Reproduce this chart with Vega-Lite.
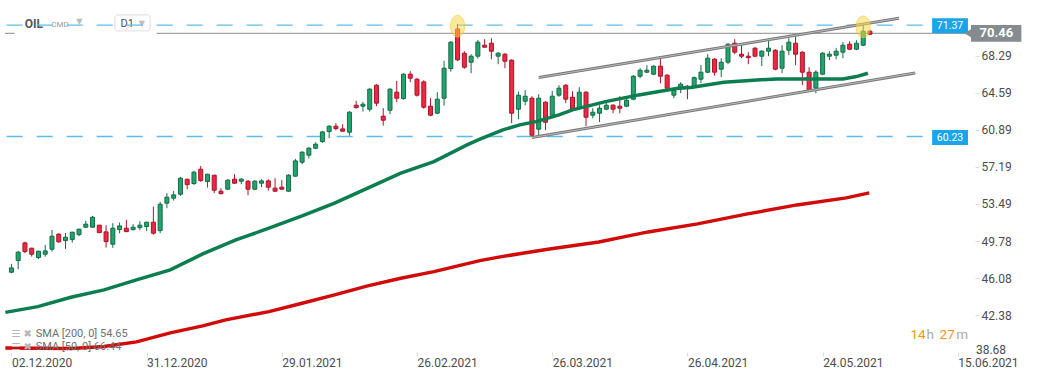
{
  "$schema": "https://vega.github.io/schema/vega-lite/v6.json",
  "width": 975,
  "height": 352,
  "autosize": {"type": "none"},
  "padding": {"left": 0, "top": 0, "right": 66, "bottom": 28},
  "background": "#ffffff",
  "config": {
    "view": {"stroke": null},
    "font": "Roboto",
    "axis": {"domain": false, "grid": false, "tickSize": 4, "tickColor": "#dddddd", "labelFontSize": 12, "labelColor": "#4d4d4d", "labelFont": "Roboto", "labelOverlap": false, "labelBound": false, "titleFontSize": 0},
    "axisX": {"labelPadding": 1, "labelAlign": "left", "labelFlush": false},
    "axisY": {"labelPadding": 2, "labelAlign": "left", "labelFlush": false}
  },
  "data": {"values": [{}]},
  "datasets": {
    "candles": [
      {"i":0,"o":46.66,"h":47.49,"l":46.55,"c":47.09},
      {"i":1,"o":47.82,"h":48.79,"l":46.96,"c":48.66},
      {"i":2,"o":49.59,"h":49.72,"l":48.56,"c":48.72},
      {"i":3,"o":49.06,"h":49.10,"l":48.22,"c":48.46},
      {"i":4,"o":48.12,"h":48.80,"l":47.96,"c":48.76},
      {"i":5,"o":48.46,"h":49.39,"l":48.22,"c":48.79},
      {"i":6,"o":48.96,"h":50.89,"l":48.72,"c":50.26},
      {"i":7,"o":50.46,"h":50.56,"l":49.62,"c":49.69},
      {"i":8,"o":49.82,"h":50.59,"l":48.99,"c":50.16},
      {"i":9,"o":49.92,"h":50.70,"l":49.62,"c":50.66},
      {"i":10,"o":50.42,"h":51.00,"l":50.26,"c":50.96},
      {"i":11,"o":51.16,"h":51.79,"l":51.10,"c":51.46},
      {"i":12,"o":51.16,"h":52.29,"l":51.10,"c":52.16},
      {"i":13,"o":51.36,"h":51.40,"l":50.56,"c":50.62},
      {"i":14,"o":50.69,"h":51.36,"l":49.12,"c":49.72},
      {"i":15,"o":49.46,"h":51.56,"l":49.09,"c":51.06},
      {"i":16,"o":50.92,"h":51.62,"l":50.56,"c":51.29},
      {"i":17,"o":51.06,"h":51.89,"l":50.66,"c":50.72},
      {"i":18,"o":50.92,"h":51.46,"l":50.82,"c":51.16},
      {"i":19,"o":51.12,"h":51.76,"l":50.86,"c":51.36},
      {"i":20,"o":51.22,"h":51.70,"l":50.79,"c":51.66},
      {"i":21,"o":51.66,"h":53.22,"l":50.42,"c":50.56},
      {"i":22,"o":50.82,"h":53.69,"l":50.56,"c":53.46},
      {"i":23,"o":53.56,"h":54.56,"l":53.06,"c":54.16},
      {"i":24,"o":54.06,"h":54.79,"l":53.82,"c":54.39},
      {"i":25,"o":54.46,"h":56.19,"l":54.29,"c":56.06},
      {"i":26,"o":55.96,"h":56.00,"l":54.96,"c":55.42},
      {"i":27,"o":55.52,"h":56.80,"l":55.40,"c":56.66},
      {"i":28,"o":56.96,"h":57.29,"l":55.70,"c":55.82},
      {"i":29,"o":55.72,"h":56.50,"l":55.12,"c":56.46},
      {"i":30,"o":56.36,"h":56.40,"l":54.56,"c":54.86},
      {"i":31,"o":54.76,"h":55.06,"l":54.42,"c":54.52},
      {"i":32,"o":54.96,"h":55.96,"l":54.90,"c":55.86},
      {"i":33,"o":55.96,"h":56.46,"l":55.50,"c":55.56},
      {"i":34,"o":55.76,"h":56.06,"l":55.46,"c":55.96},
      {"i":35,"o":55.76,"h":55.86,"l":54.36,"c":54.96},
      {"i":36,"o":54.96,"h":55.86,"l":54.86,"c":55.76},
      {"i":37,"o":55.56,"h":55.96,"l":55.16,"c":55.79},
      {"i":38,"o":55.79,"h":55.96,"l":54.82,"c":55.16},
      {"i":39,"o":55.06,"h":56.06,"l":54.70,"c":54.76},
      {"i":40,"o":55.16,"h":55.89,"l":54.89,"c":54.96},
      {"i":41,"o":54.76,"h":56.46,"l":54.70,"c":56.36},
      {"i":42,"o":56.26,"h":57.99,"l":56.20,"c":57.79},
      {"i":43,"o":57.66,"h":58.76,"l":57.46,"c":58.66},
      {"i":44,"o":58.36,"h":59.16,"l":58.02,"c":59.06},
      {"i":45,"o":59.06,"h":59.66,"l":58.96,"c":59.46},
      {"i":46,"o":59.72,"h":60.79,"l":59.60,"c":60.69},
      {"i":47,"o":60.72,"h":61.36,"l":60.06,"c":61.26},
      {"i":48,"o":61.26,"h":61.56,"l":60.86,"c":61.02},
      {"i":49,"o":60.99,"h":61.46,"l":60.70,"c":60.76},
      {"i":50,"o":60.66,"h":62.76,"l":60.32,"c":62.66},
      {"i":51,"o":63.36,"h":63.79,"l":63.02,"c":63.12},
      {"i":52,"o":63.26,"h":63.69,"l":62.72,"c":63.46},
      {"i":53,"o":62.96,"h":65.06,"l":62.72,"c":64.96},
      {"i":54,"o":65.36,"h":65.46,"l":63.26,"c":63.56},
      {"i":55,"o":62.26,"h":63.06,"l":61.32,"c":61.86},
      {"i":56,"o":62.86,"h":65.06,"l":62.46,"c":64.96},
      {"i":57,"o":64.66,"h":65.79,"l":63.66,"c":64.06},
      {"i":58,"o":64.02,"h":66.56,"l":63.92,"c":66.46},
      {"i":59,"o":66.46,"h":66.76,"l":65.66,"c":66.06},
      {"i":60,"o":65.96,"h":66.06,"l":64.22,"c":64.36},
      {"i":61,"o":65.69,"h":65.86,"l":63.00,"c":63.16},
      {"i":62,"o":63.26,"h":64.06,"l":62.26,"c":62.36},
      {"i":63,"o":62.56,"h":64.66,"l":62.46,"c":63.96},
      {"i":64,"o":64.06,"h":67.79,"l":63.32,"c":67.06},
      {"i":65,"o":67.02,"h":69.76,"l":66.72,"c":69.66},
      {"i":66,"o":70.99,"h":71.49,"l":67.79,"c":67.89},
      {"i":67,"o":68.56,"h":68.76,"l":67.00,"c":67.16},
      {"i":68,"o":67.66,"h":68.46,"l":66.56,"c":68.26},
      {"i":69,"o":68.26,"h":69.89,"l":68.02,"c":69.66},
      {"i":70,"o":69.36,"h":69.96,"l":69.10,"c":69.16},
      {"i":71,"o":69.56,"h":70.06,"l":67.96,"c":68.76},
      {"i":72,"o":68.26,"h":68.66,"l":67.46,"c":68.56},
      {"i":73,"o":68.46,"h":68.56,"l":67.06,"c":67.76},
      {"i":74,"o":67.86,"h":67.96,"l":61.56,"c":62.56},
      {"i":75,"o":62.96,"h":64.72,"l":61.96,"c":64.36},
      {"i":76,"o":63.76,"h":64.86,"l":63.36,"c":64.26},
      {"i":77,"o":64.06,"h":64.26,"l":60.22,"c":60.36},
      {"i":78,"o":60.96,"h":64.46,"l":60.36,"c":64.06},
      {"i":79,"o":63.66,"h":63.76,"l":60.86,"c":61.66},
      {"i":80,"o":62.36,"h":64.79,"l":62.20,"c":64.26},
      {"i":81,"o":64.36,"h":65.36,"l":64.20,"c":65.06},
      {"i":82,"o":65.36,"h":65.46,"l":63.56,"c":63.96},
      {"i":83,"o":64.16,"h":64.76,"l":62.86,"c":62.96},
      {"i":84,"o":63.06,"h":65.16,"l":62.96,"c":64.66},
      {"i":85,"o":64.66,"h":64.76,"l":61.26,"c":62.16},
      {"i":86,"o":62.36,"h":63.06,"l":62.06,"c":62.66},
      {"i":87,"o":62.56,"h":63.36,"l":61.66,"c":63.06},
      {"i":88,"o":62.96,"h":63.66,"l":62.86,"c":63.36},
      {"i":89,"o":63.36,"h":63.46,"l":62.56,"c":62.96},
      {"i":90,"o":63.26,"h":64.26,"l":62.56,"c":63.06},
      {"i":91,"o":63.26,"h":64.16,"l":63.16,"c":63.86},
      {"i":92,"o":63.96,"h":66.36,"l":63.86,"c":66.26},
      {"i":93,"o":66.26,"h":67.06,"l":66.06,"c":66.86},
      {"i":94,"o":66.66,"h":67.36,"l":66.56,"c":66.86},
      {"i":95,"o":66.46,"h":67.36,"l":66.36,"c":67.26},
      {"i":96,"o":67.26,"h":68.06,"l":65.56,"c":66.26},
      {"i":97,"o":66.36,"h":66.46,"l":64.72,"c":65.06},
      {"i":98,"o":64.36,"h":65.06,"l":64.06,"c":64.86},
      {"i":99,"o":65.06,"h":65.66,"l":64.56,"c":65.46},
      {"i":100,"o":65.26,"h":65.36,"l":63.96,"c":65.12},
      {"i":101,"o":65.16,"h":66.22,"l":65.06,"c":66.12},
      {"i":102,"o":65.96,"h":67.36,"l":65.56,"c":66.66},
      {"i":103,"o":66.66,"h":68.46,"l":66.56,"c":68.06},
      {"i":104,"o":67.96,"h":68.06,"l":66.32,"c":66.66},
      {"i":105,"o":66.96,"h":68.06,"l":66.16,"c":67.66},
      {"i":106,"o":67.66,"h":69.56,"l":67.46,"c":69.46},
      {"i":107,"o":69.56,"h":69.96,"l":68.46,"c":68.66},
      {"i":108,"o":68.46,"h":69.36,"l":68.06,"c":68.26},
      {"i":109,"o":68.26,"h":68.66,"l":67.46,"c":68.12},
      {"i":110,"o":69.06,"h":69.16,"l":68.16,"c":68.26},
      {"i":111,"o":68.26,"h":68.86,"l":67.26,"c":68.76},
      {"i":112,"o":68.76,"h":69.86,"l":68.26,"c":69.06},
      {"i":113,"o":68.86,"h":68.96,"l":66.86,"c":66.96},
      {"i":114,"o":67.06,"h":69.36,"l":66.56,"c":68.76},
      {"i":115,"o":68.86,"h":70.06,"l":68.36,"c":69.66},
      {"i":116,"o":69.56,"h":70.26,"l":67.36,"c":68.46},
      {"i":117,"o":68.66,"h":68.76,"l":65.36,"c":66.66},
      {"i":118,"o":66.66,"h":67.16,"l":64.76,"c":64.86},
      {"i":119,"o":65.06,"h":66.86,"l":64.56,"c":66.66},
      {"i":120,"o":66.46,"h":68.66,"l":66.36,"c":68.56},
      {"i":121,"o":68.26,"h":68.76,"l":67.86,"c":68.46},
      {"i":122,"o":68.36,"h":69.06,"l":67.96,"c":68.76},
      {"i":123,"o":68.66,"h":69.66,"l":68.06,"c":69.36},
      {"i":124,"o":69.46,"h":69.76,"l":68.86,"c":68.96},
      {"i":125,"o":68.96,"h":69.86,"l":68.86,"c":69.56},
      {"i":126,"o":69.36,"h":71.46,"l":69.26,"c":70.76},
      {"i":127,"o":70.76,"h":70.86,"l":70.36,"c":70.46}
    ],
    "sma50": [
      {"i":-0.9,"v":42.64},{"i":3.9,"v":43.22},{"i":8.8,"v":44.16},{"i":13.7,"v":44.89},
      {"i":18.5,"v":45.89},{"i":23.5,"v":46.89},{"i":28.3,"v":48.49},{"i":33.2,"v":49.89},
      {"i":38.1,"v":51.06},{"i":43,"v":52.29},{"i":47.8,"v":53.56},{"i":52.7,"v":55.06},
      {"i":57.6,"v":56.56},{"i":62.5,"v":57.72},{"i":67.4,"v":59.39},{"i":69.3,"v":59.96},
      {"i":72.7,"v":60.89},{"i":75.2,"v":61.39},{"i":77.6,"v":61.72},{"i":81,"v":62.39},
      {"i":83,"v":62.89},{"i":87.9,"v":63.72},{"i":92.8,"v":64.39},{"i":98.6,"v":65.06},
      {"i":100.5,"v":65.12},{"i":105.4,"v":65.66},{"i":110.3,"v":65.89},{"i":113.2,"v":65.99},
      {"i":123,"v":65.99},{"i":125,"v":66.22},{"i":126.7,"v":66.56}
    ],
    "sma200": [
      {"i":-0.9,"v":39.09},{"i":8.9,"v":39.04},{"i":13.7,"v":39.24},{"i":18.5,"v":39.69},
      {"i":23.5,"v":40.59},{"i":28.3,"v":41.29},{"i":31.7,"v":41.89},{"i":38.1,"v":42.72},
      {"i":43,"v":43.56},{"i":47.8,"v":44.39},{"i":52.7,"v":45.29},{"i":57.6,"v":46.06},
      {"i":62.5,"v":46.72},{"i":69.3,"v":47.82},{"i":72.3,"v":48.19},{"i":79.6,"v":48.99},
      {"i":86.9,"v":49.69},{"i":91.3,"v":50.29},{"i":94.2,"v":50.69},{"i":101.5,"v":51.49},
      {"i":108.9,"v":52.49},{"i":116.2,"v":53.39},{"i":123.5,"v":54.09},{"i":126.9,"v":54.59}
    ],
    "channel": [
      {"line":"upper","i":78.0,"v":66.12},{"line":"upper","i":131.3,"v":72.06},
      {"line":"lower","i":77.0,"v":60.12},{"line":"lower","i":133.7,"v":66.59}
    ],
    "levels": [
      {"v":71.37,"label":"71.37"},
      {"v":60.23,"label":"60.23"}
    ],
    "highlights": [
      {"i":66.0,"v":71.26},
      {"i":126.0,"v":71.19}
    ]
  },
  "layer": [
    {
      "mark": {"type": "rect", "fill": "#ffffff", "stroke": "#dddddd", "strokeWidth": 1, "cornerRadius": 3},
      "encoding": {
        "x": {"datum": 15.3, "type": "quantitative", "scale": {"domain": [-0.95, 141.8], "nice": false, "zero": false}},
        "x2": {"datum": 20.53},
        "y": {"datum": 72.39, "type": "quantitative", "scale": {"domain": [38.68, 73.88], "nice": false, "zero": false}, "axis": {"orient": "right"}},
        "y2": {"datum": 70.79}
      }
    },
    {
      "mark": {"type": "text", "align": "left", "baseline": "middle", "fontSize": 12, "fontWeight": "bold", "color": "#555555"},
      "encoding": {
        "x": {"datum": 1.98, "type": "quantitative"},
        "y": {"datum": 71.49, "type": "quantitative", "axis": {"orient": "right"}},
        "text": {"value": "OIL"}
      }
    },
    {
      "mark": {"type": "text", "align": "left", "baseline": "middle", "fontSize": 8, "color": "#9a9a9a"},
      "encoding": {
        "x": {"datum": 5.89, "type": "quantitative"},
        "y": {"datum": 71.4, "type": "quantitative", "axis": {"orient": "right"}},
        "text": {"value": "CMD"}
      }
    },
    {
      "mark": {"type": "text", "align": "center", "baseline": "middle", "fontSize": 8, "color": "#bbbbbb", "font": "DejaVu Sans"},
      "encoding": {
        "x": {"datum": 10.03, "type": "quantitative"},
        "y": {"datum": 71.7, "type": "quantitative", "axis": {"orient": "right"}},
        "text": {"value": "▼"}
      }
    },
    {
      "mark": {"type": "text", "align": "left", "baseline": "middle", "fontSize": 11, "color": "#555555"},
      "encoding": {
        "x": {"datum": 16.13, "type": "quantitative"},
        "y": {"datum": 71.49, "type": "quantitative", "axis": {"orient": "right"}},
        "text": {"value": "D1"}
      }
    },
    {
      "mark": {"type": "text", "align": "center", "baseline": "middle", "fontSize": 8, "color": "#bbbbbb", "font": "DejaVu Sans"},
      "encoding": {
        "x": {"datum": 19.3, "type": "quantitative"},
        "y": {"datum": 71.49, "type": "quantitative", "axis": {"orient": "right"}},
        "text": {"value": "▼"}
      }
    },
    {
      "mark": {"type": "rule", "stroke": "#8c8c8c", "strokeWidth": 1},
      "encoding": {
        "x": {"datum": -0.95, "type": "quantitative"},
        "x2": {"datum": 0.5},
        "y": {"datum": 70.55, "type": "quantitative", "axis": {"orient": "right"}}
      }
    },
    {
      "mark": {"type": "rule", "stroke": "#8c8c8c", "strokeWidth": 1},
      "encoding": {
        "x": {"datum": 21.5, "type": "quantitative"},
        "x2": {"datum": 141.8},
        "y": {"datum": 70.55, "type": "quantitative", "axis": {"orient": "right"}}
      }
    },
    {
      "data": {"name": "levels"},
      "mark": {"type": "rule", "stroke": "#5bbdee", "strokeWidth": 1.4, "strokeDash": [16, 14]},
      "encoding": {
        "x": {"datum": -0.7, "type": "quantitative"},
        "x2": {"datum": 136.2},
        "y": {"field": "v", "type": "quantitative", "axis": {"orient": "right"}}
      }
    },
    {
      "data": {"name": "sma200"},
      "mark": {"type": "line", "stroke": "#d10a0a", "strokeWidth": 3.5},
      "encoding": {
        "x": {"field": "i", "type": "quantitative"},
        "y": {"field": "v", "type": "quantitative", "axis": {"orient": "right"}}
      }
    },
    {
      "data": {"name": "candles"},
      "mark": {"type": "rule", "strokeWidth": 1},
      "encoding": {
        "x": {"field": "i", "type": "quantitative"},
        "y": {"field": "l", "type": "quantitative", "axis": {"orient": "right"}},
        "y2": {"field": "h"},
        "color": {"condition": {"test": "datum.c >= datum.o", "value": "#146b45"}, "value": "#a8142b"}
      }
    },
    {
      "data": {"name": "candles"},
      "mark": {"type": "bar", "size": 4, "strokeWidth": 1},
      "encoding": {
        "x": {
          "field": "i", "type": "quantitative",
          "scale": {"domain": [-0.95, 141.8], "nice": false, "zero": false},
          "axis": {
            "values": [0, 20, 40, 60, 80, 100, 120, 140],
            "labelExpr": "['02.12.2020','31.12.2020','29.01.2021','26.02.2021','26.03.2021','26.04.2021','24.05.2021','15.06.2021'][round(datum.value / 20)]",
            "title": null
          }
        },
        "y": {
          "field": "o", "type": "quantitative",
          "scale": {"domain": [38.68, 73.88], "nice": false, "zero": false},
          "axis": {
            "orient": "right",
            "values": [38.68, 42.38, 46.08, 49.78, 53.49, 57.19, 60.89, 64.59, 68.29],
            "labelExpr": "datum.value < 39 ? '' : format(datum.value, '.2f')",
            "title": null
          }
        },
        "y2": {"field": "c"},
        "fill": {"condition": {"test": "datum.c >= datum.o", "value": "#22a46f"}, "value": "#ee2841"},
        "stroke": {"condition": {"test": "datum.c >= datum.o", "value": "#146b45"}, "value": "#a8142b"}
      }
    },
    {
      "mark": {"type": "text", "align": "left", "baseline": "middle", "fontSize": 12, "color": "#4d4d4d"},
      "encoding": {
        "x": {"datum": 142.68, "type": "quantitative"},
        "y": {"datum": 38.93, "type": "quantitative", "axis": {"orient": "right"}},
        "text": {"value": "38.68"}
      }
    },
    {
      "data": {"name": "sma50"},
      "mark": {"type": "line", "stroke": "#0b7d4e", "strokeWidth": 3.5},
      "encoding": {
        "x": {"field": "i", "type": "quantitative"},
        "y": {"field": "v", "type": "quantitative", "axis": {"orient": "right"}}
      }
    },
    {
      "data": {"name": "channel"},
      "mark": {"type": "line", "stroke": "#7a7a7a", "strokeWidth": 3},
      "encoding": {
        "x": {"field": "i", "type": "quantitative"},
        "y": {"field": "v", "type": "quantitative", "axis": {"orient": "right"}},
        "detail": {"field": "line"}
      }
    },
    {
      "data": {"name": "channel"},
      "mark": {"type": "line", "stroke": "#b8b8b8", "strokeWidth": 1},
      "encoding": {
        "x": {"field": "i", "type": "quantitative"},
        "y": {"field": "v", "type": "quantitative", "axis": {"orient": "right"}},
        "detail": {"field": "line"}
      }
    },
    {
      "data": {"name": "highlights"},
      "mark": {
        "type": "point", "filled": true, "size": 484,
        "shape": "M0,-1C0.354,-1,0.64,-0.552,0.64,0C0.64,0.552,0.354,1,0,1C-0.354,1,-0.64,0.552,-0.64,0C-0.64,-0.552,-0.354,-1,0,-1Z",
        "fill": "#f9d84a", "fillOpacity": 0.55, "stroke": "#f2c01c", "strokeOpacity": 0.5, "strokeWidth": 1
      },
      "encoding": {
        "x": {"field": "i", "type": "quantitative"},
        "y": {"field": "v", "type": "quantitative", "axis": {"orient": "right"}}
      }
    },
    {
      "mark": {"type": "rect", "fill": "#1aa5ea"},
      "encoding": {
        "x": {"datum": 136.2, "type": "quantitative"},
        "x2": {"datum": 141.5},
        "y": {"datum": 72.05, "type": "quantitative", "axis": {"orient": "right"}},
        "y2": {"datum": 70.55}
      }
    },
    {
      "mark": {"type": "rect", "fill": "#1aa5ea"},
      "encoding": {
        "x": {"datum": 136.2, "type": "quantitative"},
        "x2": {"datum": 141.5},
        "y": {"datum": 60.88, "type": "quantitative", "axis": {"orient": "right"}},
        "y2": {"datum": 59.38}
      }
    },
    {
      "mark": {"type": "text", "align": "center", "baseline": "middle", "fontSize": 10.5, "color": "#ffffff"},
      "encoding": {
        "x": {"datum": 138.85, "type": "quantitative"},
        "y": {"datum": 71.3, "type": "quantitative", "axis": {"orient": "right"}},
        "text": {"value": "71.37"}
      }
    },
    {
      "mark": {"type": "text", "align": "center", "baseline": "middle", "fontSize": 10.5, "color": "#ffffff"},
      "encoding": {
        "x": {"datum": 138.85, "type": "quantitative"},
        "y": {"datum": 60.13, "type": "quantitative", "axis": {"orient": "right"}},
        "text": {"value": "60.23"}
      }
    },
    {
      "mark": {"type": "rect", "fill": "#858c8f"},
      "encoding": {
        "x": {"datum": 141.95, "type": "quantitative"},
        "x2": {"datum": 149.4},
        "y": {"datum": 71.38, "type": "quantitative", "axis": {"orient": "right"}},
        "y2": {"datum": 69.71}
      }
    },
    {
      "mark": {"type": "point", "shape": "triangle-left", "filled": true, "size": 110, "fill": "#858c8f", "opacity": 1},
      "encoding": {
        "x": {"datum": 141.6, "type": "quantitative"},
        "y": {"datum": 70.55, "type": "quantitative", "axis": {"orient": "right"}}
      }
    },
    {
      "mark": {"type": "text", "align": "center", "baseline": "middle", "fontSize": 13, "fontWeight": "bold", "color": "#ffffff"},
      "encoding": {
        "x": {"datum": 145.7, "type": "quantitative"},
        "y": {"datum": 70.55, "type": "quantitative", "axis": {"orient": "right"}},
        "text": {"value": "70.46"}
      }
    },
    {
      "mark": {"type": "text", "align": "left", "baseline": "middle", "fontSize": 10, "color": "#b5b5b5", "font": "DejaVu Sans"},
      "encoding": {
        "x": {"datum": 0.0, "type": "quantitative"},
        "y": {"datum": 40.48, "type": "quantitative", "axis": {"orient": "right"}},
        "text": {"value": "☰ ✖"}
      }
    },
    {
      "mark": {"type": "text", "align": "left", "baseline": "middle", "fontSize": 10, "color": "#b5b5b5", "font": "DejaVu Sans"},
      "encoding": {
        "x": {"datum": 0.0, "type": "quantitative"},
        "y": {"datum": 39.21, "type": "quantitative", "axis": {"orient": "right"}},
        "text": {"value": "☰ ✖"}
      }
    },
    {
      "mark": {"type": "text", "align": "left", "baseline": "middle", "fontSize": 11, "color": "#707070"},
      "encoding": {
        "x": {"datum": 3.59, "type": "quantitative"},
        "y": {"datum": 40.48, "type": "quantitative", "axis": {"orient": "right"}},
        "text": {"value": "SMA  [200,  0]  54.65"}
      }
    },
    {
      "mark": {"type": "text", "align": "left", "baseline": "middle", "fontSize": 11, "color": "#707070"},
      "encoding": {
        "x": {"datum": 3.59, "type": "quantitative"},
        "y": {"datum": 39.21, "type": "quantitative", "axis": {"orient": "right"}},
        "text": {"value": "SMA  [50,  0]  66.44"}
      }
    },
    {
      "mark": {"type": "text", "align": "left", "baseline": "middle", "fontSize": 13.5, "color": "#f7941d"},
      "encoding": {
        "x": {"datum": 133.0, "type": "quantitative"},
        "y": {"datum": 40.38, "type": "quantitative", "axis": {"orient": "right"}},
        "text": {"value": "14"}
      }
    },
    {
      "mark": {"type": "text", "align": "left", "baseline": "middle", "fontSize": 13.5, "color": "#aaaaaa"},
      "encoding": {
        "x": {"datum": 135.37, "type": "quantitative"},
        "y": {"datum": 40.38, "type": "quantitative", "axis": {"orient": "right"}},
        "text": {"value": "h"}
      }
    },
    {
      "mark": {"type": "text", "align": "left", "baseline": "middle", "fontSize": 13.5, "color": "#f7941d"},
      "encoding": {
        "x": {"datum": 137.3, "type": "quantitative"},
        "y": {"datum": 40.38, "type": "quantitative", "axis": {"orient": "right"}},
        "text": {"value": "27"}
      }
    },
    {
      "mark": {"type": "text", "align": "left", "baseline": "middle", "fontSize": 13.5, "color": "#aaaaaa"},
      "encoding": {
        "x": {"datum": 139.75, "type": "quantitative"},
        "y": {"datum": 40.38, "type": "quantitative", "axis": {"orient": "right"}},
        "text": {"value": "m"}
      }
    }
  ]
}
